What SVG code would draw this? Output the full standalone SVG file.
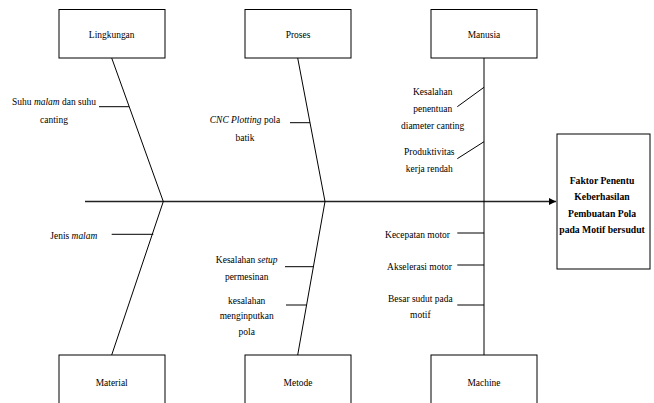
<svg xmlns="http://www.w3.org/2000/svg" width="654" height="403" viewBox="0 0 654 403">
<defs>
<marker id="arr" markerWidth="8" markerHeight="8" refX="7" refY="4" orient="auto" markerUnits="userSpaceOnUse">
<path d="M0,0.5 L7,4 L0,7.5 Z" fill="#000"/>
</marker>
</defs>
<style>
.box{fill:#fff;stroke:#000;stroke-width:1}
.ln{fill:none;stroke:#000;stroke-width:1}
.sp{fill:none;stroke:#222;stroke-width:1.3}
.t{font-size:11px;fill:#000;text-anchor:middle}
.b{font-weight:bold}
.i{font-style:italic}
</style>
<rect width="654" height="403" fill="#fff"/>

<g id="connectors">
<line class="sp" x1="85" y1="201.5" x2="556" y2="201.5" marker-end="url(#arr)"/>
<line class="ln" x1="111.7" y1="58" x2="163.3" y2="201.5"/>
<line class="ln" x1="297.7" y1="58" x2="325" y2="201.5"/>
<line class="ln" x1="484" y1="58" x2="484" y2="355"/>
<line class="ln" x1="163.3" y1="201.5" x2="111.7" y2="355"/>
<line class="ln" x1="325" y1="201.5" x2="297.7" y2="355"/>
<line class="ln" x1="99" y1="106.7" x2="129" y2="106.7"/>
<line class="ln" x1="290" y1="122.7" x2="310" y2="122.7"/>
<line class="ln" x1="457.3" y1="106.7" x2="484" y2="87.3"/>
<line class="ln" x1="457.3" y1="158.7" x2="484" y2="141.7"/>
<line class="ln" x1="111.7" y1="234.3" x2="153.3" y2="234.3"/>
<line class="ln" x1="285" y1="266.7" x2="313.3" y2="266.7"/>
<line class="ln" x1="286" y1="305" x2="306.7" y2="305"/>
<line class="ln" x1="457.3" y1="233" x2="484" y2="233"/>
<line class="ln" x1="457.3" y1="265" x2="484" y2="265"/>
<line class="ln" x1="457.3" y1="305" x2="484" y2="305"/>
</g>

<g font-family="'Liberation Serif', 'Times New Roman', serif">
<g id="lingkungan"><rect class="box" x="59" y="9.5" width="106" height="48.5"/><text class="t" transform="translate(111.7,37.5) scale(0.86,1)">Lingkungan</text></g>
<g id="proses"><rect class="box" x="245" y="9.5" width="106" height="48.5"/><text class="t" transform="translate(298,37.5) scale(0.86,1)">Proses</text></g>
<g id="manusia"><rect class="box" x="431" y="9.5" width="106" height="48.5"/><text class="t" transform="translate(484,37.5) scale(0.86,1)">Manusia</text></g>
<g id="material"><rect class="box" x="59" y="355" width="106" height="60"/><text class="t" transform="translate(111.7,385.5) scale(0.86,1)">Material</text></g>
<g id="metode"><rect class="box" x="245" y="355" width="106" height="60"/><text class="t" transform="translate(298,385.5) scale(0.86,1)">Metode</text></g>
<g id="machine"><rect class="box" x="431" y="355" width="106" height="60"/><text class="t" transform="translate(484,385.5) scale(0.86,1)">Machine</text></g>
<g id="effect"><rect class="box" x="557" y="134" width="93" height="135"/>
<text class="t b" transform="translate(602,183.5) scale(0.88,1)"><tspan x="0" y="0">Faktor Penentu</tspan><tspan x="0" y="16.6">Keberhasilan</tspan><tspan x="0" y="33.2">Pembuatan Pola</tspan><tspan x="0" y="49.8">pada Motif bersudut</tspan></text></g>

<g id="causes">
<text class="t" transform="translate(54,105) scale(0.86,1)"><tspan x="0" y="0">Suhu <tspan class="i">malam</tspan> dan suhu</tspan><tspan x="0" y="18.5">canting</tspan></text>
<text class="t" transform="translate(245,123) scale(0.86,1)"><tspan x="0" y="0"><tspan class="i">CNC Plotting</tspan> pola</tspan><tspan x="0" y="18.5">batik</tspan></text>
<text class="t" transform="translate(432.7,95) scale(0.86,1)"><tspan x="0" y="0">Kesalahan</tspan><tspan x="0" y="17">penentuan</tspan><tspan x="0" y="34">diameter canting</tspan></text>
<text class="t" transform="translate(429.3,155) scale(0.86,1)"><tspan x="0" y="0">Produktivitas</tspan><tspan x="0" y="16.7">kerja rendah</tspan></text>
<text class="t" transform="translate(73.8,239.3) scale(0.86,1)">Jenis <tspan class="i">malam</tspan></text>
<text class="t" transform="translate(246.7,263.3) scale(0.86,1)"><tspan x="0" y="0">Kesalahan <tspan class="i">setup</tspan></tspan><tspan x="0" y="16.7">permesinan</tspan></text>
<text class="t" transform="translate(246.7,304) scale(0.86,1)"><tspan x="0" y="0">kesalahan</tspan><tspan x="0" y="15.5">menginputkan</tspan><tspan x="0" y="31.5">pola</tspan></text>
<text class="t" transform="translate(417.5,237.5) scale(0.86,1)">Kecepatan motor</text>
<text class="t" transform="translate(419.5,270) scale(0.86,1)">Akselerasi motor</text>
<text class="t" transform="translate(420.3,301.5) scale(0.86,1)"><tspan x="0" y="0">Besar sudut pada</tspan><tspan x="0" y="16.8">motif</tspan></text>
</g>
</g>
</svg>
